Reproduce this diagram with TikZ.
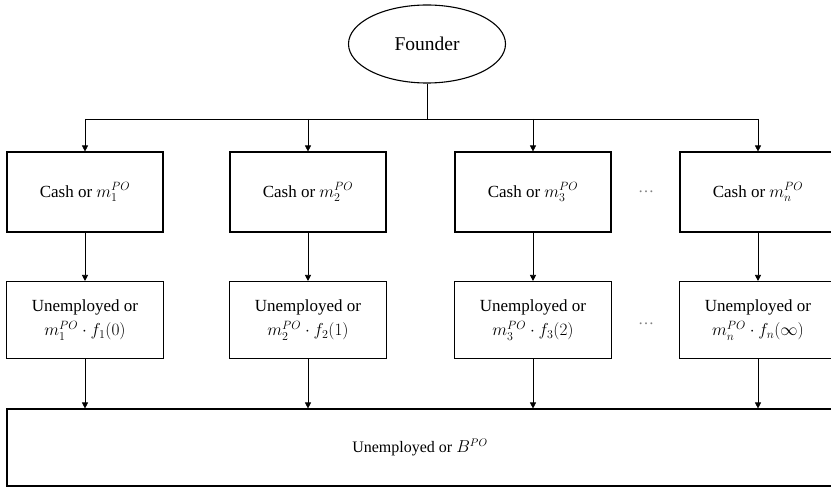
\documentclass[tikz,border=0pt]{standalone}
\usepackage{fontspec}
\setmainfont{Liberation Serif}
\usetikzlibrary{shapes.geometric,arrows.meta}

\begin{document}
\begin{tikzpicture}[x=1pt,y=-1pt,
  offer/.style={draw,line width=1.1pt,minimum width=156pt,minimum height=80pt,align=center,font=\fontsize{17}{24}\selectfont},
  outcome/.style={draw,line width=1.1pt,minimum width=157pt,minimum height=77pt,align=center,font=\fontsize{17}{24}\selectfont},
  flow/.style={draw,line width=0.6pt,-{Triangle[length=6pt,width=6pt]}}
]
  \useasboundingbox (0,0) rectangle (831,487);
  \clip (0,0) rectangle (831,487);

  % Founder
  \node[draw,ellipse,line width=1.1pt,minimum width=157pt,minimum height=78pt,font=\fontsize{19.5}{22}\selectfont] (founder) at (427,44) {Founder};

  % Offers -- cash or equity
  \node[offer] (cash1) at (85,192) {Cash or $m_1^{PO}$};
  \node[offer] (cash2) at (308,192) {Cash or $m_2^{PO}$};
  \node[offer] (cash3) at (533,192) {Cash or $m_3^{PO}$};
  \node[offer] (cash4) at (758,192) {Cash or $m_n^{PO}$};

  % Outcomes
  \node[outcome] (out1) at (85,320) {Unemployed or\\$m_1^{PO}\cdot f_1(0)$};
  \node[outcome] (out2) at (308,320) {Unemployed or\\$m_2^{PO}\cdot f_2(1)$};
  \node[outcome] (out3) at (533,320) {Unemployed or\\$m_3^{PO}\cdot f_3(2)$};
  \node[outcome] (out4) at (758,320) {Unemployed or\\$m_n^{PO}\cdot f_n(\infty)$};

  % Gaps
  \node[text=gray,font=\fontsize{16}{20}\selectfont] (gap1) at (646,192) {\dots};
  \node[text=gray,font=\fontsize{16}{20}\selectfont] (gap2) at (646,324) {\dots};

  % Final state
  \node[draw,line width=1.1pt,minimum width=826pt,minimum height=77pt,font=\fontsize{16}{20}\selectfont] (final) at (420,447.5) {Unemployed or $B^{PO}$};

  % Bus from founder
  \coordinate (busL) at (85,119);
  \coordinate (busR) at (758,119);
  \draw[line width=0.6pt] (founder) -- (founder |- busL);
  \draw[line width=0.6pt] (busL) -- (busR);

  \foreach \i in {1,...,4}{
    \draw[flow] (cash\i |- busL) -- (cash\i);
    \draw[flow] (cash\i) -- (out\i);
    \draw[flow] (out\i) -- (out\i |- final.north);
  }
\end{tikzpicture}
\end{document}
